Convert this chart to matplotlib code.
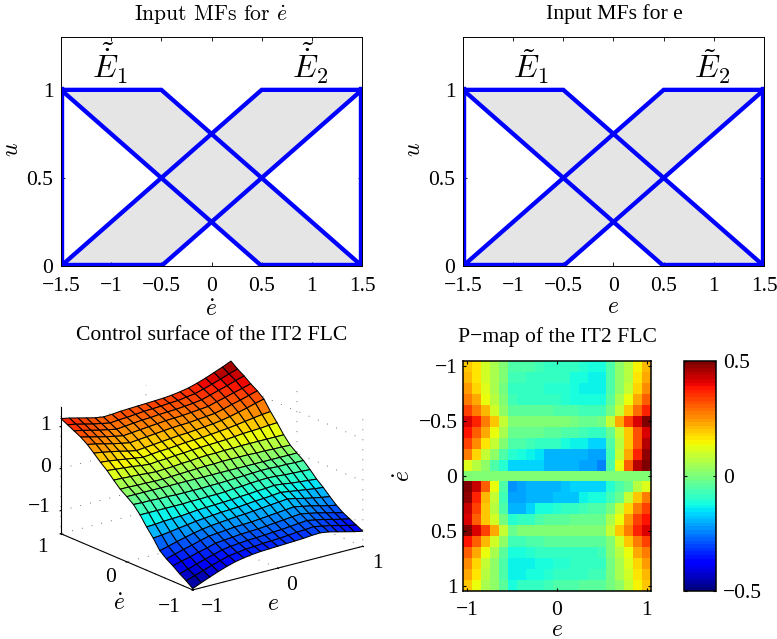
import matplotlib
matplotlib.use('Agg')
import matplotlib.pyplot as plt
import numpy as np

plt.rcParams['font.family'] = ['Liberation Serif', 'DejaVu Serif']
plt.rcParams['mathtext.fontset'] = 'cm'
plt.rcParams['axes.linewidth'] = 0.7
plt.rcParams['axes.unicode_minus'] = True
plt.rcParams['grid.linestyle'] = (0, (1, 11))
plt.rcParams['grid.linewidth'] = 0.6
plt.rcParams['grid.color'] = '#444444'

W, H = 777, 639
FS = 15.5
TS = 15.6

# membership functions
mf_x = [-1.5, -0.5, 0.5, 1.5]
e1_upper = [1, 1, 0.5, 0]
e1_lower = [1, 0.5, 0, 0]
e2_upper = [0, 0.5, 1, 1]
e2_lower = [0, 0, 0.5, 1]
mf_ticks = [-1.5, -1, -0.5, 0, 0.5, 1, 1.5]
mf_ticklabels = ['\u22121.5', '\u22121', '\u22120.5', '0', '0.5', '1', '1.5']
u_ticks = [0, 0.5, 1]
u_ticklabels = ['0', '0.5', '1']

# control surface, rows are edot -1..1, columns are e -1..1
surf_axis = [-1, -0.9, -0.8, -0.7, -0.6, -0.5, -0.4, -0.3, -0.2, -0.1, 0,
             0.1, 0.2, 0.3, 0.4, 0.5, 0.6, 0.7, 0.8, 0.9, 1]
surface = [
    [-1.52, -1.43, -1.35, -1.27, -1.20, -1.14, -1.10, -1.07, -1.05, -1.04, -1.03, -1.02, -1.01, -1.00, -.98, -.97, -1.00, -1.05, -1.10, -1.15, -1.19],
    [-1.40, -1.33, -1.26, -1.19, -1.13, -1.07, -1.04, -1.01, -1.00, -.98, -.97, -.96, -.94, -.92, -.91, -.89, -.93, -.97, -1.02, -1.07, -1.11],
    [-1.30, -1.24, -1.17, -1.11, -1.05, -.99, -.96, -.94, -.92, -.91, -.90, -.88, -.87, -.85, -.83, -.81, -.85, -.89, -.94, -.99, -1.03],
    [-1.18, -1.12, -1.07, -1.01, -.96, -.90, -.88, -.86, -.84, -.83, -.82, -.80, -.78, -.76, -.74, -.72, -.76, -.80, -.85, -.90, -.95],
    [-1.08, -1.02, -.96, -.91, -.85, -.80, -.78, -.76, -.74, -.73, -.72, -.70, -.68, -.66, -.64, -.62, -.66, -.70, -.75, -.80, -.84],
    [-.95, -.90, -.84, -.79, -.74, -.70, -.67, -.65, -.63, -.61, -.60, -.58, -.56, -.54, -.52, -.50, -.54, -.59, -.63, -.67, -.70],
    [-.72, -.70, -.67, -.64, -.61, -.58, -.56, -.54, -.52, -.51, -.50, -.48, -.46, -.45, -.43, -.41, -.44, -.47, -.50, -.53, -.55],
    [-.52, -.51, -.49, -.48, -.47, -.45, -.43, -.42, -.41, -.40, -.39, -.37, -.36, -.34, -.33, -.31, -.33, -.36, -.38, -.40, -.42],
    [-.30, -.30, -.30, -.30, -.30, -.30, -.29, -.29, -.28, -.28, -.27, -.25, -.24, -.22, -.21, -.20, -.21, -.23, -.24, -.25, -.26],
    [-.12, -.13, -.13, -.14, -.14, -.15, -.15, -.15, -.15, -.14, -.14, -.13, -.12, -.11, -.10, -.09, -.09, -.10, -.10, -.11, -.11],
    [0, 0, 0, 0, 0, 0, 0, 0, 0, 0, 0, 0, 0, 0, 0, 0, 0, 0, 0, 0, 0],
    [.11, .11, .10, .10, .09, .09, .10, .11, .12, .13, .14, .14, .15, .15, .15, .15, .14, .14, .13, .13, .12],
    [.26, .25, .24, .23, .21, .20, .21, .22, .24, .25, .27, .28, .28, .29, .29, .30, .30, .30, .30, .30, .30],
    [.42, .40, .38, .36, .33, .31, .33, .34, .36, .37, .39, .40, .41, .42, .43, .45, .47, .48, .49, .51, .52],
    [.55, .53, .50, .47, .44, .41, .43, .45, .46, .48, .50, .51, .52, .54, .56, .58, .61, .64, .67, .70, .72],
    [.70, .67, .63, .59, .54, .50, .52, .54, .56, .58, .60, .61, .63, .65, .67, .70, .74, .79, .84, .90, .95],
    [.84, .80, .75, .70, .66, .62, .64, .66, .68, .70, .72, .73, .74, .76, .78, .80, .85, .91, .96, 1.02, 1.08],
    [.95, .90, .85, .80, .76, .72, .74, .76, .78, .80, .82, .83, .84, .86, .88, .90, .96, 1.01, 1.07, 1.12, 1.18],
    [1.03, .99, .94, .89, .85, .81, .83, .85, .87, .88, .90, .91, .92, .94, .96, .99, 1.05, 1.11, 1.17, 1.24, 1.30],
    [1.11, 1.07, 1.02, .97, .93, .89, .91, .92, .94, .96, .97, .98, 1.00, 1.01, 1.04, 1.07, 1.13, 1.19, 1.26, 1.33, 1.40],
    [1.19, 1.15, 1.10, 1.05, 1.00, .97, .98, 1.00, 1.01, 1.02, 1.03, 1.04, 1.05, 1.07, 1.10, 1.14, 1.20, 1.27, 1.35, 1.43, 1.52],
]

# P-map, rows run from edot=-1 at the top to edot=1 at the bottom
pmap = [
    [.20, .16, .10, .05, .00, -.06, -.06, -.06, -.07, -.08, -.08, -.09, -.09, -.10, -.11, -.12, -.05, .02, .07, .15, .21],
    [.21, .17, .10, .05, .00, -.07, -.07, -.08, -.08, -.08, -.09, -.09, -.11, -.12, -.13, -.13, -.05, .02, .07, .16, .22],
    [.24, .18, .11, .05, -.01, -.08, -.08, -.09, -.09, -.10, -.10, -.10, -.12, -.13, -.14, -.14, -.05, .03, .08, .18, .25],
    [.27, .22, .14, .07, .00, -.07, -.08, -.08, -.08, -.09, -.09, -.10, -.11, -.12, -.12, -.12, -.04, .06, .14, .23, .31],
    [.33, .28, .21, .10, .03, -.04, -.04, -.04, -.04, -.04, -.05, -.05, -.06, -.07, -.07, -.07, -.01, .09, .20, .29, .37],
    [.42, .36, .28, .20, .09, .00, .00, .00, .00, .00, .00, .00, -.01, -.02, -.02, -.01, .08, .22, .33, .41, .49],
    [.38, .31, .23, .14, .06, -.03, -.03, -.03, -.03, -.04, -.04, -.05, -.06, -.07, -.08, -.08, -.02, .09, .20, .32, .42],
    [.33, .26, .17, .09, .01, -.06, -.06, -.07, -.08, -.08, -.09, -.11, -.13, -.14, -.17, -.17, -.06, .07, .20, .32, .44],
    [.27, .18, .09, .03, -.05, -.10, -.12, -.13, -.15, -.19, -.19, -.19, -.19, -.20, -.21, -.21, -.07, .08, .22, .37, .48],
    [.12, .07, .02, -.06, -.10, -.16, -.17, -.17, -.17, -.19, -.19, -.19, -.20, -.21, -.21, -.24, -.06, .13, .30, .44, .50],
    [0, 0, 0, 0, 0, 0, 0, 0, 0, 0, 0, 0, 0, 0, 0, 0, 0, 0, 0, 0, 0],
    [.50, .43, .30, .13, -.06, -.23, -.21, -.20, -.20, -.19, -.19, -.18, -.17, -.17, -.17, -.17, -.10, -.06, -.02, .07, .12],
    [.48, .37, .21, .08, -.07, -.21, -.21, -.19, -.19, -.19, -.18, -.18, -.18, -.14, -.12, -.11, -.07, -.02, .08, .20, .28],
    [.43, .33, .20, .07, -.06, -.20, -.20, -.17, -.12, -.11, -.10, -.08, -.08, -.07, -.06, -.05, -.01, .09, .18, .27, .33],
    [.41, .31, .20, .10, -.01, -.10, -.08, -.08, -.06, -.04, -.04, -.04, -.03, -.03, -.03, -.03, .05, .14, .24, .33, .38],
    [.49, .42, .33, .22, .09, -.02, .00, .00, .00, .01, .01, .01, .01, .01, .01, .01, .08, .20, .28, .36, .42],
    [.38, .30, .21, .10, .02, -.07, -.07, -.06, -.05, -.04, -.04, -.04, -.04, -.04, -.04, -.04, .00, .10, .20, .28, .33],
    [.31, .23, .14, .06, -.04, -.12, -.12, -.10, -.09, -.09, -.08, -.08, -.08, -.08, -.08, -.07, .00, .07, .14, .22, .27],
    [.25, .18, .08, .03, -.05, -.14, -.14, -.13, -.12, -.11, -.10, -.10, -.09, -.08, -.08, -.08, -.01, .05, .11, .18, .24],
    [.22, .16, .07, .03, -.05, -.13, -.13, -.12, -.11, -.10, -.09, -.08, -.08, -.08, -.07, -.07, -.01, .05, .10, .17, .21],
    [.20, .14, .06, .02, -.04, -.12, -.09, -.08, -.08, -.07, -.06, -.05, -.05, -.04, -.04, -.04, -.01, .03, .08, .15, .20],
]


def px_rect(x0, y0, x1, y1):
    return [x0 / W, 1 - y1 / H, (x1 - x0) / W, (y1 - y0) / H]


def px_text(x, y, s, **kw):
    fig.text(x / W, 1 - y / H, s, ha='center', va='center', **kw)


def draw_mf(rect, lab1, lab2, x1, x2, lab_y):
    ax = fig.add_axes(px_rect(*rect))
    ax.fill_between(mf_x, e1_lower, e1_upper, color='#e5e5e5', lw=0)
    ax.fill_between(mf_x, e2_lower, e2_upper, color='#e5e5e5', lw=0)
    for up, lo in [(e1_upper, e1_lower), (e2_upper, e2_lower)]:
        ax.plot(mf_x, up, color='#0000ff', lw=3.1, solid_joinstyle='miter')
        ax.plot(mf_x, lo, color='#0000ff', lw=3.1, solid_joinstyle='miter')
    # the edge lines get cut by the axes box, so they are drawn wider
    ax.plot([mf_x[0], mf_x[0]], [0, 1], color='#0000ff', lw=4.6)
    ax.plot([mf_x[-1], mf_x[-1]], [0, 1], color='#0000ff', lw=4.6)
    ax.plot(mf_x[:2], e2_lower[:2], color='#0000ff', lw=4.6)
    ax.plot(mf_x[2:], e1_lower[2:], color='#0000ff', lw=4.6)
    ax.set_xlim(-1.5, 1.5)
    ax.set_ylim(0, 1.3)
    ax.set_xticks(mf_ticks, mf_ticklabels)
    ax.set_yticks(u_ticks, u_ticklabels)
    ax.tick_params(direction='in', top=True, right=True, length=3, width=0.6, labelsize=FS)
    ax.tick_params(axis='x', pad=8)
    ax.tick_params(axis='y', pad=5.5)
    px_text(x1, lab_y, lab1, fontsize=23)
    px_text(x2, lab_y, lab2, fontsize=23)
    return ax


fig = plt.figure(figsize=(W / 100, H / 100), dpi=100)

draw_mf((61, 37, 362, 266), r'$\tilde{\dot{E}}_1$', r'$\tilde{\dot{E}}_2$', 110, 310, 63)
draw_mf((463, 37, 764, 266), r'$\tilde{E}_1$', r'$\tilde{E}_2$', 531, 712, 67)

px_text(211, 15, r'Input MFs for $\dot{e}$', fontsize=TS, family=['cmr10', 'DejaVu Serif'])
px_text(614, 14, 'Input MFs for e', fontsize=TS)
px_text(211, 311, r'$\dot{e}$', fontsize=17)
px_text(613, 307, r'$e$', fontsize=17)
px_text(12, 150, r'$u$', fontsize=17, rotation=90)
px_text(414, 150, r'$u$', fontsize=17, rotation=90)

# control surface
ax3 = fig.add_axes(px_rect(46, 319.4, 369, 642.4), projection='3d', proj_type='ortho')
ax3.patch.set_alpha(0)
E, Ed = np.meshgrid(surf_axis, surf_axis)
ax3.plot_surface(E, Ed, np.array(surface), cmap=plt.get_cmap('jet', 64), vmin=-1.52, vmax=1.52,
                 rstride=1, cstride=1, edgecolor='black', linewidth=0.75, shade=False)
ax3.view_init(elev=19.3, azim=-127.8)
ax3.set_box_aspect((1, 1, 0.625))
ax3.set_xlim(-1, 1, view_margin=0)
ax3.set_ylim(-1, 1, view_margin=0)
ax3.set_zlim(-1.55, 1.47, view_margin=0)
ax3.set_xticks([-1, 0, 1], ['', '', ''])
ax3.set_yticks([-1, 0, 1], ['', '', ''])
ax3.set_zticks([-1, 0, 1], ['', '', ''])
for axis in (ax3.xaxis, ax3.yaxis, ax3.zaxis):
    axis.set_pane_color((1, 1, 1, 0))
    axis.pane.set_edgecolor((1, 1, 1, 0))
    axis.line.set_linewidth(0.8)
    axis._axinfo['tick']['inward_factor'] = 0.06
    axis._axinfo['tick']['outward_factor'] = 0.0
px_text(212, 336, 'Control surface of the IT2 FLC', fontsize=TS)
# tick labels of the 3d box
px_text(45, 425, '1', fontsize=FS)
px_text(46, 467, '0', fontsize=FS)
px_text(39, 508, '\u22121', fontsize=FS)
px_text(42, 548, '1', fontsize=FS)
px_text(111, 577, '0', fontsize=FS)
px_text(169, 607, '\u22121', fontsize=FS)
px_text(212, 608, '\u22121', fontsize=FS)
px_text(292, 585, '0', fontsize=FS)
px_text(377, 563, '1', fontsize=FS)
px_text(119, 604, r'$\dot{e}$', fontsize=17)
px_text(273, 604, r'$e$', fontsize=17)

# P-map with colour bar
axh = fig.add_axes(px_rect(463, 361, 651, 591))
im = axh.imshow(np.array(pmap), cmap=plt.get_cmap('jet', 64), vmin=-0.5, vmax=0.5, aspect='auto',
                interpolation='nearest', extent=(-1.05, 1.05, 1.05, -1.05))
axh.set_xticks([-1, 0, 1], ['\u22121', '0', '1'])
axh.set_yticks([-1, -0.5, 0, 0.5, 1], ['\u22121', '\u22120.5', '0', '0.5', '1'])
axh.tick_params(direction='in', top=True, right=True, length=2.5, width=0.8, labelsize=FS)
axh.tick_params(axis='x', pad=7.5)
axh.tick_params(axis='y', pad=4)
for s in axh.spines.values():
    s.set_linewidth(1.1)
cax = fig.add_axes(px_rect(684, 361, 716, 591))
cb = fig.colorbar(im, cax=cax, ticks=[-0.5, 0, 0.5])
cb.ax.set_yticklabels(['\u22120.5', '0', '0.5'])
cb.ax.tick_params(direction='in', left=True, right=True, length=2.5, width=0.8, labelsize=FS, pad=5)
cb.outline.set_linewidth(1.1)
px_text(557, 337, 'P\u2212map of the IT2 FLC', fontsize=TS)
px_text(557, 630, r'$e$', fontsize=17)
px_text(404, 476, r'$\dot{e}$', fontsize=17, rotation=90)

fig.savefig('out.png', dpi=100)
